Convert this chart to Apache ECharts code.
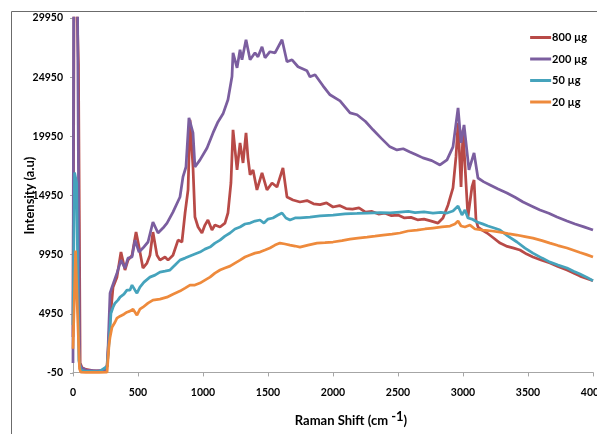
<!DOCTYPE html>
<html>
<head>
<meta charset="utf-8">
<script src="https://cdn.jsdelivr.net/npm/echarts@6/dist/echarts.min.js"></script>
<style>
  html, body { margin: 0; padding: 0; background: #fff; }
  #chart { width: 597px; height: 434px; }
</style>
</head>
<body>
<div id="chart"></div>
<script>
// Raman spectra, intensity vs shift (cm-1)
const names = ['800 µg', '200 µg', '50 µg', '20 µg']
const colors = ['#B84A47', '#7B5E9F', '#45A3BC', '#EE8A3C']

const shift800 = [0, 8, 30, 42, 55, 70, 100, 150, 200, 240, 262, 285, 308, 338, 369, 400, 423, 454, 485, 508, 538, 569, 592, 615, 646, 669, 708, 731, 769, 808, 838, 862, 885, 900, 923, 938, 962, 992, 1015, 1038, 1069, 1092, 1131, 1169, 1192, 1215, 1231, 1262, 1285, 1308, 1331, 1346, 1362, 1385, 1415, 1454, 1492, 1531, 1569, 1615, 1646, 1692, 1746, 1800, 1850, 1900, 1950, 2000, 2050, 2100, 2150, 2200, 2250, 2300, 2350, 2400, 2450, 2500, 2550, 2600, 2650, 2700, 2750, 2808, 2846, 2885, 2923, 2946, 2962, 2985, 3000, 3023, 3038, 3069, 3085, 3100, 3115, 3150, 3185, 3230, 3285, 3340, 3390, 3438, 3490, 3538, 3600, 3669, 3730, 3800, 3850, 3900, 3950, 4000]
const int800 = [3000, 31000, 31000, 26000, 800, 400, 250, 150, 120, 160, 600, 4400, 7200, 8050, 10170, 8650, 9490, 9900, 11860, 10590, 8820, 9240, 9900, 11860, 9900, 9490, 9750, 9490, 9900, 11180, 11020, 13470, 15420, 21340, 17360, 13130, 12290, 11780, 12450, 12880, 12030, 12450, 12290, 12620, 13470, 16010, 20500, 17110, 19400, 17700, 20240, 18130, 16690, 17110, 15420, 16860, 15420, 16010, 15670, 17280, 14820, 14570, 14400, 14520, 14250, 14180, 14320, 13980, 14100, 13850, 13800, 13900, 13550, 13600, 13380, 13450, 13250, 13300, 13050, 13100, 12900, 12950, 12800, 12620, 13050, 14150, 15590, 18210, 21090, 15670, 20500, 16010, 13130, 15670, 16260, 12880, 12290, 12000, 11780, 11400, 10930, 10650, 10500, 10340, 10000, 9750, 9500, 9240, 8950, 8650, 8400, 8140, 7950, 7750]

const shift200 = [0, 5, 35, 50, 65, 100, 180, 250, 265, 285, 300, 338, 369, 400, 423, 454, 477, 508, 538, 577, 615, 654, 692, 723, 769, 823, 846, 869, 892, 923, 938, 977, 1031, 1077, 1115, 1154, 1192, 1223, 1231, 1262, 1285, 1300, 1331, 1362, 1400, 1423, 1454, 1477, 1515, 1554, 1608, 1646, 1685, 1731, 1800, 1823, 1862, 1923, 1977, 2054, 2131, 2185, 2250, 2308, 2370, 2438, 2492, 2540, 2592, 2640, 2692, 2760, 2823, 2877, 2923, 2962, 2985, 3008, 3046, 3085, 3115, 3160, 3208, 3270, 3338, 3400, 3462, 3530, 3592, 3660, 3723, 3800, 3862, 3930, 4000]
const int200 = [800, 31000, 31000, 800, 400, 200, 120, 180, 600, 6700, 7210, 8390, 9490, 8820, 9660, 9750, 11180, 10170, 10510, 11020, 12710, 11780, 12200, 12620, 13550, 14820, 16520, 17360, 21510, 20240, 17360, 17960, 18970, 20240, 21170, 21850, 23040, 25000, 27010, 25740, 27270, 26420, 28110, 26420, 27010, 26670, 27520, 26590, 27100, 27010, 28110, 26250, 26420, 25830, 25490, 24980, 25150, 24220, 23460, 22950, 21930, 21770, 21200, 20500, 19800, 19060, 18800, 18900, 18630, 18400, 18130, 17900, 17530, 17960, 19060, 22360, 19400, 20920, 17110, 18550, 16430, 16100, 15840, 15500, 15160, 14800, 14400, 14050, 13720, 13450, 13130, 12800, 12540, 12300, 12030]

const shift50 = [0, 12, 28, 45, 60, 100, 200, 262, 277, 292, 308, 323, 346, 362, 392, 415, 438, 454, 477, 492, 515, 546, 592, 631, 669, 708, 746, 785, 823, 862, 900, 938, 977, 1015, 1054, 1092, 1131, 1169, 1208, 1246, 1285, 1323, 1362, 1400, 1438, 1469, 1500, 1538, 1577, 1608, 1638, 1669, 1708, 1746, 1823, 1900, 2000, 2092, 2185, 2262, 2362, 2440, 2515, 2580, 2631, 2700, 2769, 2830, 2877, 2923, 2962, 2992, 3015, 3038, 3069, 3108, 3150, 3192, 3240, 3285, 3346, 3415, 3477, 3538, 3608, 3669, 3731, 3800, 3850, 3900, 3950, 4000]
const int50 = [4000, 16900, 16000, 1000, 200, 80, 60, 500, 2470, 5000, 5510, 5850, 6110, 6360, 6610, 6950, 6950, 7380, 6950, 6700, 7210, 7630, 8050, 8220, 8480, 8560, 8650, 9070, 9490, 9660, 9830, 10000, 10170, 10420, 10590, 10930, 11180, 11520, 11780, 12120, 12290, 12540, 12620, 12790, 12880, 12620, 12960, 13050, 13300, 13470, 13050, 12880, 13050, 13050, 13130, 13220, 13300, 13390, 13430, 13470, 13510, 13480, 13550, 13600, 13510, 13560, 13470, 13520, 13470, 13640, 14060, 13300, 13720, 13050, 12960, 12710, 12550, 12370, 12200, 12030, 11520, 11020, 10510, 10080, 9660, 9320, 9070, 8820, 8550, 8310, 8050, 7750]

const shift20 = [0, 20, 35, 50, 60, 100, 200, 262, 277, 285, 300, 323, 338, 362, 392, 415, 438, 462, 492, 515, 538, 577, 615, 669, 723, 769, 823, 862, 900, 938, 977, 1015, 1054, 1092, 1131, 1169, 1208, 1246, 1285, 1323, 1362, 1400, 1438, 1477, 1515, 1554, 1592, 1631, 1669, 1708, 1746, 1808, 1877, 1938, 2000, 2069, 2131, 2192, 2262, 2323, 2385, 2454, 2515, 2577, 2646, 2708, 2769, 2838, 2900, 2938, 2962, 2985, 3015, 3054, 3092, 3154, 3223, 3285, 3346, 3415, 3477, 3538, 3608, 3669, 3731, 3800, 3850, 3900, 3950, 4000]
const int20 = [2000, 10300, 5000, 300, 20, 0, 0, 20, 2300, 2980, 3820, 4240, 4580, 4750, 4920, 5090, 5180, 5340, 4840, 5340, 5510, 5850, 6110, 6190, 6360, 6610, 6870, 7120, 7380, 7380, 7550, 7800, 8050, 8390, 8650, 8820, 8980, 9240, 9490, 9750, 9920, 10080, 10170, 10340, 10510, 10760, 10930, 10850, 10760, 10680, 10590, 10760, 10930, 10970, 11020, 11140, 11270, 11350, 11440, 11520, 11610, 11690, 11780, 11950, 12030, 12120, 12200, 12290, 12370, 12540, 12790, 12370, 12290, 12450, 12120, 12030, 11950, 11860, 11730, 11610, 11480, 11350, 11140, 10930, 10720, 10510, 10320, 10130, 9950, 9750]

const xTicks = { min: 0, max: 4000, step: 500 }
const yTicks = { min: -50, max: 29950, step: 5000 }

function pairs(xs, ys) {
  return xs.map((x, i) => [x, ys[i]])
}
const seriesData = [
  pairs(shift800, int800),
  pairs(shift200, int200),
  pairs(shift50, int50),
  pairs(shift20, int20)
]

const chart = echarts.init(document.getElementById('chart'))
const labelFont = { fontFamily: 'Lato', fontWeight: 'bold', color: '#000' }
// plain numbers, no thousands separator
const plain = (v) => String(v)

const option = {
  animation: false,
  backgroundColor: '#fff',
  graphic: [
    {
      type: 'rect',
      shape: { x: 11.5, y: 11.5, width: 620, height: 460 },
      style: { fill: 'none', stroke: '#6b6b6b', lineWidth: 1 },
      silent: true
    }
  ],
  legend: {
    orient: 'vertical',
    right: 5,
    top: 27,
    icon: 'rect',
    itemWidth: 21,
    itemHeight: 3,
    itemGap: 10.5,
    textStyle: { ...labelFont, fontSize: 11, padding: [0, 0, 0, -4] },
    data: names
  },
  grid: {
    left: 73,
    right: 4,
    top: 18,
    bottom: 61,
    containLabel: false,
    outerBoundsMode: 'none'
  },
  xAxis: {
    type: 'value',
    min: xTicks.min,
    max: xTicks.max,
    interval: xTicks.step,
    name: '{a|Raman Shift (cm }{s|-1}{a|)}',
    nameLocation: 'middle',
    nameGap: 37,
    nameMoveOverlap: false,
    nameTextStyle: {
      padding: [0, 0, 0, 36],
      rich: {
        a: { ...labelFont, fontSize: 13 },
        s: { ...labelFont, fontSize: 13, padding: [0, 0, 8, 0] }
      }
    },
    axisLine: { show: true, lineStyle: { color: '#a6a6a6', width: 1 } },
    axisTick: { show: true, length: 4, lineStyle: { color: '#a6a6a6' } },
    axisLabel: { ...labelFont, fontSize: 10.5, margin: 14, formatter: plain },
    splitLine: { show: false }
  },
  yAxis: {
    type: 'value',
    min: yTicks.min,
    max: yTicks.max,
    interval: yTicks.step,
    name: 'Intensity (a.u)',
    nameLocation: 'middle',
    nameGap: 37,
    nameMoveOverlap: false,
    nameTextStyle: { ...labelFont, fontSize: 13 },
    axisLine: { show: true, lineStyle: { color: '#a6a6a6', width: 1 } },
    axisTick: { show: true, length: 3, lineStyle: { color: '#a6a6a6' } },
    axisLabel: { ...labelFont, fontSize: 10.5, margin: 10, formatter: plain },
    splitLine: { show: false }
  },
  series: names.map((n, i) => ({
    name: n,
    type: 'line',
    data: seriesData[i],
    showSymbol: false,
    symbol: 'none',
    clip: true,
    color: colors[i],
    lineStyle: { width: 2.75, color: colors[i] }
  }))
}

chart.setOption(option)
</script>
</body>
</html>
